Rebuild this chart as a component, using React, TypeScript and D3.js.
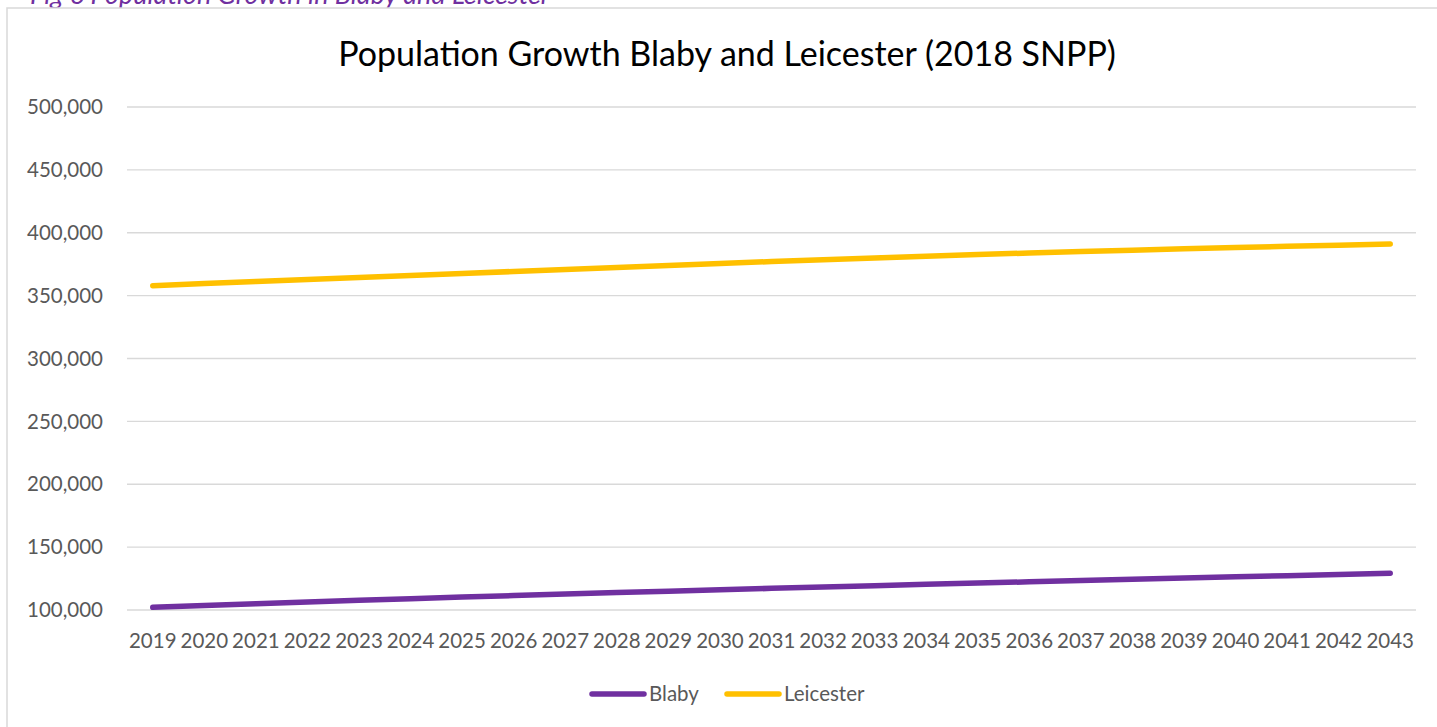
import React, { useEffect } from "react";
import * as d3 from "d3";

// years along the x axis
const years = d3.range(2019, 2044).map(String);

// population (2018 SNPP)
const blaby = [
  102100, 103600, 105000, 106400, 107700, 109000, 110300, 111500, 112700, 113900,
  115000, 116100, 117200, 118300, 119300, 120400, 121400, 122400, 123400, 124400,
  125400, 126400, 127300, 128300, 129200,
];
const leicester = [
  357900, 359600, 361200, 362800, 364400, 366000, 367600, 369200, 370800, 372400,
  374000, 375600, 377100, 378600, 380000, 381400, 382700, 383900, 385000, 386100,
  387200, 388200, 389200, 390100, 391000,
];
const yTicks = [100000, 150000, 200000, 250000, 300000, 350000, 400000, 450000, 500000];

const seriesList = [
  { name: "Blaby", values: blaby, color: "#7030A0" },
  { name: "Leicester", values: leicester, color: "#FFC000" },
];

const W = 1437;
const H = 727;
const font = "Lato, 'Open Sans', sans-serif";
const fmt = d3.format(",");

export default function App() {
  useEffect(() => {
    document.body.style.margin = "0";
  }, []);

  const x = d3.scalePoint<string>().domain(years).range([127, 1416]).padding(0.5);
  const y = d3.scaleLinear().domain([100000, 500000]).range([610, 107]);
  const line = d3
    .line<number>()
    .x((_, i) => x(years[i])!)
    .y((d) => y(d));

  return (
    <svg width={W} height={H} style={{ display: "block", background: "#fff" }}>
      {/* caption, cut off at the top of the page as in the source */}
      <text x={30} y={4} fontFamily={font} fontStyle="italic" fontSize={27} fill="#7030A0">
        Fig 6 Population Growth in Blaby and Leicester
      </text>

      <rect x={7} y={8} width={W + 20} height={H + 20} fill="#fff" stroke="#d9d9d9" strokeWidth={1.5} />

      <text x={727} y={66} textAnchor="middle" fontFamily={font} fontSize={34} fill="#000">
        Population Growth Blaby and Leicester (2018 SNPP)
      </text>

      {yTicks.map((t) => (
        <g key={t}>
          <line x1={127} x2={1416} y1={y(t)} y2={y(t)} stroke="#d9d9d9" strokeWidth={1.3} />
          <text x={103} y={y(t)} dy="0.35em" textAnchor="end" fontFamily={font} fontSize={20.5} fill="#595959">
            {fmt(t)}
          </text>
        </g>
      ))}

      {years.map((yr) => (
        <text key={yr} x={x(yr)} y={648} textAnchor="middle" fontFamily={font} fontSize={20.5} fill="#595959">
          {yr}
        </text>
      ))}

      {seriesList.map((s) => (
        <path
          key={s.name}
          d={line(s.values) ?? ""}
          fill="none"
          stroke={s.color}
          strokeWidth={5.5}
          strokeLinecap="round"
          strokeLinejoin="round"
        />
      ))}

      {/* legend */}
      {seriesList.map((s, i) => {
        const lx = 592 + i * 135;
        return (
          <g key={s.name}>
            <line x1={lx} x2={lx + 52} y1={694} y2={694} stroke={s.color} strokeWidth={5.5} strokeLinecap="round" />
            <text x={lx + 57} y={694} dy="0.35em" fontFamily={font} fontSize={20.5} fill="#595959">
              {s.name}
            </text>
          </g>
        );
      })}
    </svg>
  );
}
